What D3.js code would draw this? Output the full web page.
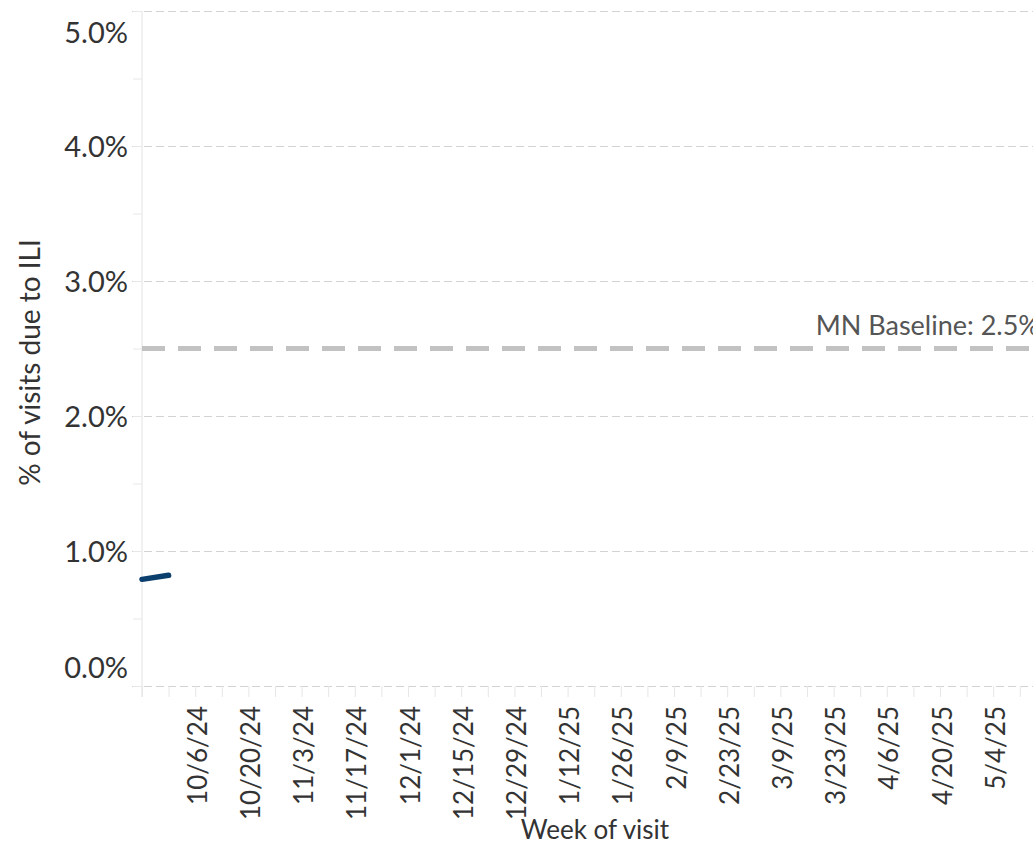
<!DOCTYPE html>
<html>
<head>
<meta charset="utf-8">
<script src="https://cdn.jsdelivr.net/npm/d3@7"></script>
<style>
  body { margin: 0; background: #fff; }
  svg { display: block; font-family: Lato, "Open Sans", sans-serif; }
</style>
</head>
<body>
<svg id="chart" width="1033" height="845"></svg>
<script>
// weekly ILI share (only the first two weeks are in)
const weeks = [new Date(2024, 8, 22), new Date(2024, 8, 29)];
const iliShare = [0.0079, 0.0082];

const baselineValue = 0.025;
const baselineLabel = 'MN Baseline: 2.5%';

const yMajorTicks = [0, 0.01, 0.02, 0.03, 0.04, 0.05];
const yMinorTicks = [0, 0.005, 0.01, 0.015, 0.02, 0.025, 0.03, 0.035, 0.04, 0.045, 0.05];

const xStart = new Date(2024, 8, 22);
const xLastTick = new Date(2025, 4, 11);

const yTitle = '% of visits due to ILI';
const xTitle = 'Week of visit';

const svg = d3.select('#chart');
const W = 1033;
const plotLeft = 142, plotTop = 11, plotBottom = 686;
const weekPx = 26.6;

const x = d3.scaleTime()
    .domain([xStart, xLastTick])
    .range([plotLeft, plotLeft + d3.timeWeek.count(xStart, xLastTick) * weekPx]);
const y = d3.scaleLinear().domain([0, 0.05]).range([plotBottom, plotTop]);

const fmtDate = d => `${d.getMonth() + 1}/${d.getDate()}/${String(d.getFullYear()).slice(2)}`;
const fmtPct = d3.format('.1%');

// dashed gridlines, they start a bit left of the axis like in tableau
svg.append('g')
    .attr('transform', `translate(${plotLeft - 10},0)`)
    .call(d3.axisRight(y).tickValues(yMajorTicks).tickSize(W - plotLeft + 10).tickFormat(''))
    .call(g => g.select('.domain').remove())
    .call(g => g.selectAll('line')
        .attr('stroke', '#d3d3d3')
        .attr('stroke-dasharray', '8,4'));

// y axis
const yAxis = svg.append('g')
    .attr('transform', `translate(${plotLeft},0)`)
    .call(d3.axisLeft(y)
        .tickValues(yMinorTicks)
        .tickSize(9)
        .tickPadding(5)
        .tickFormat(d => yMajorTicks.some(t => Math.abs(t - d) < 1e-9) ? fmtPct(d) : ''))
    .attr('font-family', null)
    .attr('font-size', 29);
yAxis.select('.domain')
    .attr('stroke', '#ececec')
    .attr('stroke-width', 1.5)
    .attr('d', `M0,${plotTop}V${plotBottom + 11}`);
yAxis.selectAll('line').attr('stroke', '#e8e8e8');
yAxis.selectAll('text')
    .attr('fill', '#333')
    .attr('dy', d => d === 0 ? '-0.3em' : d === 0.05 ? '1.1em' : '0.35em');

// x axis: weekly ticks, label every other week
const weekTicks = d3.timeWeek.range(xStart, d3.timeDay.offset(xLastTick, 1));
const xAxis = svg.append('g')
    .attr('transform', `translate(0,${plotBottom})`)
    .call(d3.axisBottom(x)
        .tickValues(weekTicks)
        .tickSize(11)
        .tickFormat((d, i) => (i > 0 && i % 2 === 0) ? fmtDate(d) : ''))
    .attr('font-family', null)
    .attr('font-size', 26);
xAxis.select('.domain').remove();
xAxis.selectAll('line').attr('stroke', '#e6e6e6');
xAxis.selectAll('text')
    .attr('fill', '#333')
    .attr('transform', 'rotate(-90)')
    .attr('text-anchor', 'end')
    .attr('x', -20)
    .attr('y', 2)
    .attr('dy', '0.35em');

// baseline reference line
svg.append('line')
    .attr('x1', plotLeft)
    .attr('x2', W)
    .attr('y1', y(baselineValue))
    .attr('y2', y(baselineValue))
    .attr('stroke', '#c2c2c2')
    .attr('stroke-width', 5)
    .attr('stroke-dasharray', '23,13');

svg.append('text')
    .attr('x', 1040)
    .attr('y', y(baselineValue) - 14)
    .attr('text-anchor', 'end')
    .attr('fill', '#555')
    .attr('font-size', 27)
    .text(baselineLabel);

// ILI line
const line = d3.line()
    .x((d, i) => x(weeks[i]))
    .y(d => y(d));

svg.append('path')
    .datum(iliShare)
    .attr('fill', 'none')
    .attr('stroke', '#0a3f6e')
    .attr('stroke-width', 5.5)
    .attr('stroke-linecap', 'round')
    .attr('d', line);

// axis titles
svg.append('text')
    .attr('transform', `translate(40,${(plotTop + plotBottom) / 2 + 14}) rotate(-90)`)
    .attr('text-anchor', 'middle')
    .attr('fill', '#333')
    .attr('font-size', 28)
    .text(yTitle);

svg.append('text')
    .attr('x', 595)
    .attr('y', 839)
    .attr('text-anchor', 'middle')
    .attr('fill', '#333')
    .attr('font-size', 26)
    .text(xTitle);
</script>
</body>
</html>
